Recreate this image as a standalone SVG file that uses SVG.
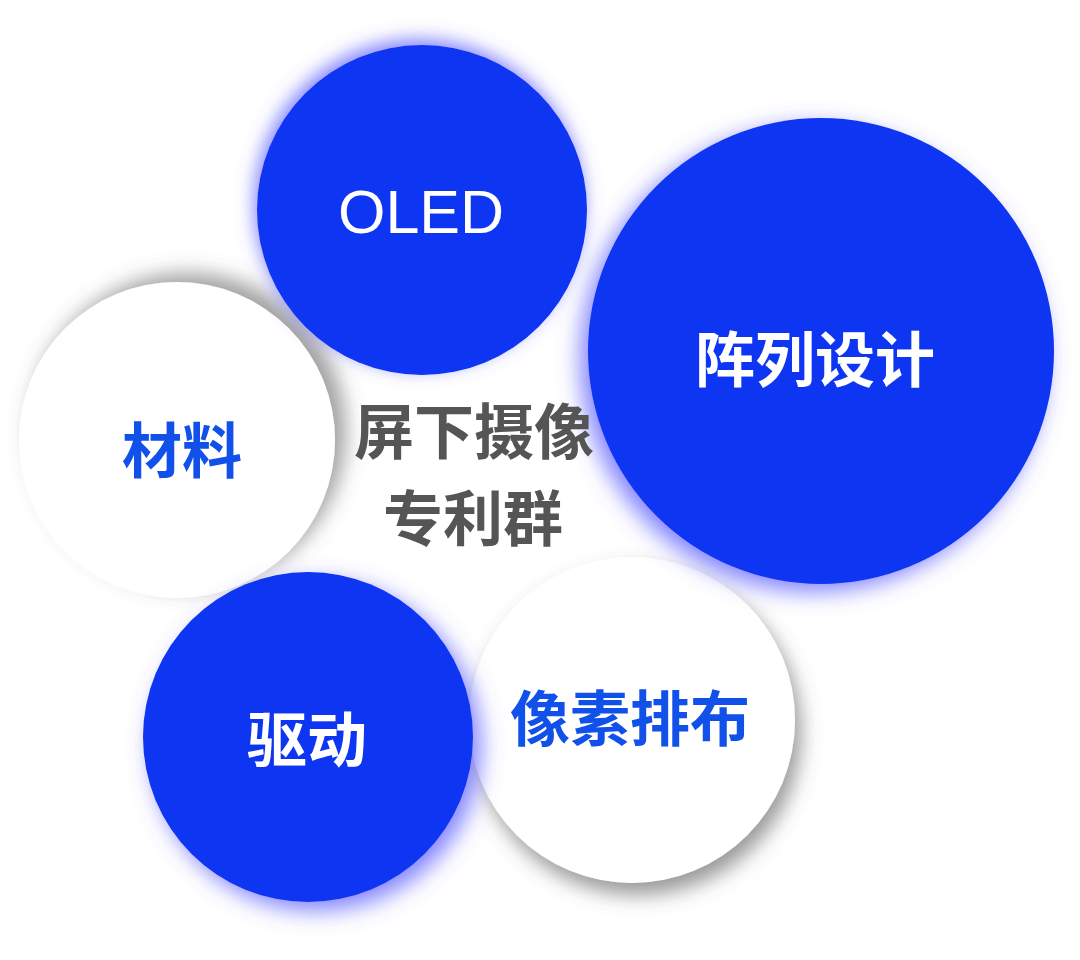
<svg xmlns="http://www.w3.org/2000/svg" width="1080" height="960" viewBox="0 0 1080 960">
<defs>
<filter id="sh-mat" x="-30%" y="-30%" width="160%" height="160%">
<feGaussianBlur in="SourceAlpha" stdDeviation="10"/>
<feOffset dx="11" dy="-9" result="b"/>
<feFlood flood-color="#555555" flood-opacity="0.55"/>
<feComposite in2="b" operator="in"/>
<feMerge><feMergeNode/><feMergeNode in="SourceGraphic"/></feMerge>
</filter>
<filter id="sh-pix" x="-30%" y="-30%" width="160%" height="160%">
<feGaussianBlur in="SourceAlpha" stdDeviation="10"/>
<feOffset dx="6" dy="12" result="b"/>
<feFlood flood-color="#555555" flood-opacity="0.6"/>
<feComposite in2="b" operator="in"/>
<feMerge><feMergeNode/><feMergeNode in="SourceGraphic"/></feMerge>
</filter>
<filter id="gl-oled" x="-30%" y="-30%" width="160%" height="160%">
<feGaussianBlur in="SourceAlpha" stdDeviation="9"/>
<feOffset dx="-3" dy="-6" result="b"/>
<feFlood flood-color="#5a5cff" flood-opacity="0.75"/>
<feComposite in2="b" operator="in"/>
<feMerge><feMergeNode/><feMergeNode in="SourceGraphic"/></feMerge>
</filter>
<filter id="gl-arr" x="-30%" y="-30%" width="160%" height="160%">
<feGaussianBlur in="SourceAlpha" stdDeviation="11"/>
<feOffset dx="-8" dy="8" result="b"/>
<feFlood flood-color="#5a5cff" flood-opacity="0.75"/>
<feComposite in2="b" operator="in"/>
<feMerge><feMergeNode/><feMergeNode in="SourceGraphic"/></feMerge>
</filter>
<filter id="gl-drv" x="-30%" y="-30%" width="160%" height="160%">
<feGaussianBlur in="SourceAlpha" stdDeviation="11"/>
<feOffset dx="8" dy="9" result="b"/>
<feFlood flood-color="#5a5cff" flood-opacity="0.75"/>
<feComposite in2="b" operator="in"/>
<feMerge><feMergeNode/><feMergeNode in="SourceGraphic"/></feMerge>
</filter>
</defs>
<style>
.blue{fill:#0836f2}
.white{fill:#ffffff}
.t{font-family:"Noto Sans CJK SC","Noto Sans",sans-serif;font-weight:700;font-size:60px;text-anchor:middle}
.tw{fill:#ffffff}
.tb{fill:#1250ea}
.tg{fill:#555555}
.en{font-family:"Liberation Sans",Arial,sans-serif;font-weight:400;font-size:61px;text-anchor:middle;fill:#ffffff}
</style>
<rect width="1080" height="960" fill="#ffffff"/>
<g id="connectors"></g>
<g id="node-cailiao">
<circle class="white" cx="177" cy="440" r="158" filter="url(#sh-mat)"/>
<text class="t tb" x="182" y="473">材料</text>
</g>
<g id="node-xiangsu">
<circle class="white" cx="632" cy="720" r="163" filter="url(#sh-pix)"/>
<text class="t tb" x="630" y="741">像素排布</text>
</g>
<g id="node-oled">
<circle class="blue" cx="422" cy="210" r="165" filter="url(#gl-oled)"/>
<text class="en" x="421" y="233">OLED</text>
</g>
<g id="node-zhenlie">
<circle class="blue" cx="821" cy="351" r="233" filter="url(#gl-arr)"/>
<text class="t tw" x="815" y="382">阵列设计</text>
</g>
<g id="node-qudong">
<circle class="blue" cx="308" cy="737" r="165" filter="url(#gl-drv)"/>
<text class="t tw" x="307" y="762">驱动</text>
</g>
<g id="node-center">
<text class="t tg" x="474" y="454">屏下摄像</text>
<text class="t tg" x="473" y="541">专利群</text>
</g>
</svg>
